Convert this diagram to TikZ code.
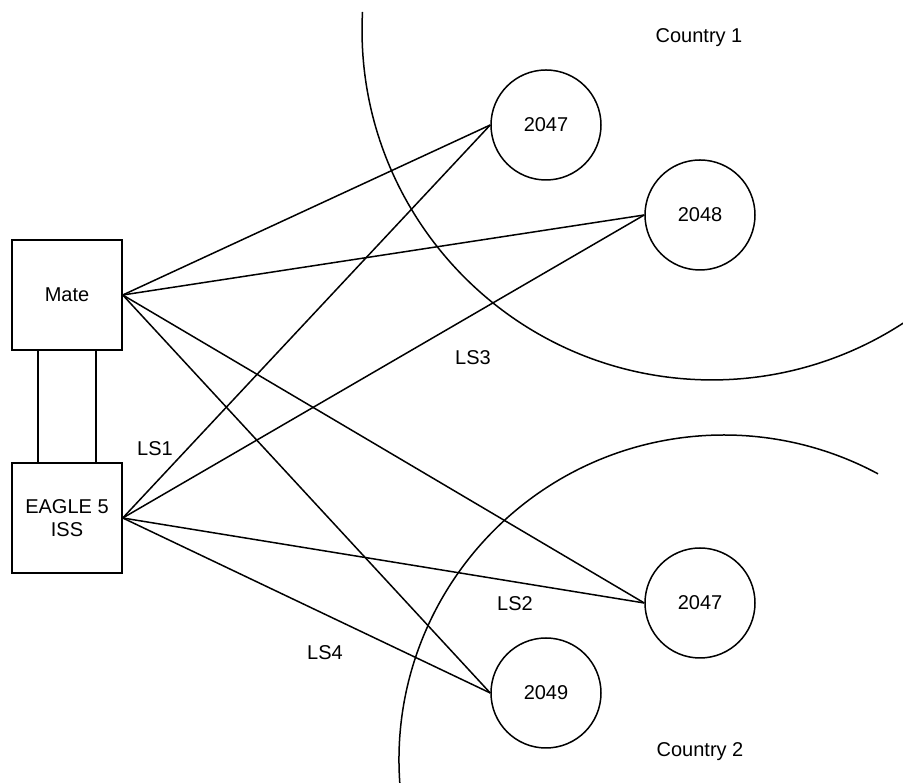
\documentclass[tikz,border=0pt]{standalone}
\usepackage{fontspec}
\setmainfont{Liberation Sans}
\begin{document}
\begin{tikzpicture}[x=1pt,y=1pt,line width=1.5pt,
	box/.style={draw,minimum width=110pt,minimum height=110pt,inner sep=0pt,align=center,font=\fontsize{20}{23}\selectfont},
	site/.style={draw,circle,minimum size=110pt,inner sep=0pt,font=\fontsize{20}{24}\selectfont},
	lbl/.style={font=\fontsize{20}{24}\selectfont}]
	\useasboundingbox (0,0) rectangle (903,783);
	% country borders
	\draw (362.5,771) arc (177.06:303.1:350);
	\draw (399.8,0) arc (184.06:61.7:325);
	\node at (699,745) [lbl]{Country 1};
	\node at (700,31) [lbl]{Country 2};
	% pair of STPs
	\node[box] (mate) at (67,488) {Mate};
	\node[box] (eagle) at (67,265) {EAGLE 5\\ISS};
	\draw ([xshift=-29pt]mate.south) -- ([xshift=-29pt]eagle.north);
	\draw ([xshift=29pt]mate.south) -- ([xshift=29pt]eagle.north);
	% remote point codes
	\node[site] (t2047) at (546,658) {2047};
	\node[site] (t2048) at (700,568) {2048};
	\node[site] (b2047) at (700,180) {2047};
	\node[site] (b2049) at (546,90) {2049};
	\foreach \s in {t2047,t2048,b2047,b2049}{
		\draw (mate.east) -- (\s.west);
		\draw (eagle.east) -- (\s.west);
	}
	% linksets
	\node at (155,334) [lbl]{LS1};
	\node at (515,179) [lbl]{LS2};
	\node at (473,425) [lbl]{LS3};
	\node at (325,130) [lbl]{LS4};
\end{tikzpicture}
\end{document}
